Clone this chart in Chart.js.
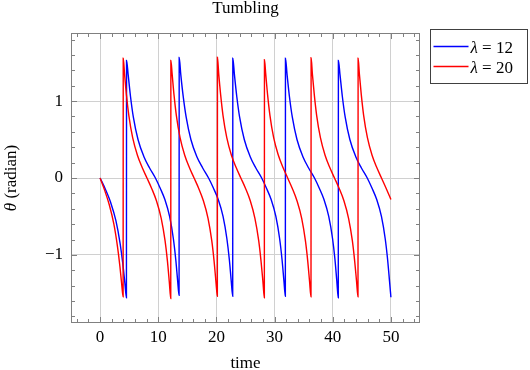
<!DOCTYPE html>
<html>
<head>
<meta charset="utf-8">
<title>Tumbling</title>
<script src="https://cdn.jsdelivr.net/npm/chart.js"></script>
<style>
  html, body { margin: 0; padding: 0; background: #fff; }
</style>
</head>
<body>
<canvas id="tumbleChart" width="530" height="370"></canvas>
<script>
// values
const xTicks = [0, 10, 20, 30, 40, 50];
const yTicks = [-1, 0, 1];
const lambdas = ['12', '20'];

const timeBlue = [
  0, 0.91, 1.81, 2.72, 3.44, 3.90, 4.26, 4.53,
  4.55, 4.83, 5.23, 5.72, 6.52, 7.52, 8.51, 9.51, 10.32, 11.14, 11.95, 12.60, 13.01, 13.34, 13.58,
  13.60, 13.88, 14.29, 14.80, 15.61, 16.62, 17.64, 18.65, 19.48, 20.31, 21.14, 21.80, 22.22, 22.55, 22.80,
  22.82, 23.10, 23.50, 23.99, 24.79, 25.79, 26.78, 27.78, 28.59, 29.41, 30.22, 30.87, 31.28, 31.61, 31.85,
  31.87, 32.15, 32.55, 33.05, 33.85, 34.85, 35.85, 36.86, 37.67, 38.49, 39.31, 39.97, 40.38, 40.70, 40.95,
  40.97, 41.25, 41.65, 42.14, 42.94, 43.94, 44.93, 45.93, 46.74, 47.56, 48.37, 49.02, 49.43, 49.76, 50.00
];
const thetaBlue = [
  0, -0.145, -0.316, -0.555, -0.85, -1.11, -1.364, -1.558,
  1.528, 1.34, 1.06, 0.79, 0.50, 0.28, 0.13, 0, -0.13, -0.28, -0.50, -0.79, -1.06, -1.34, -1.524,
  1.567, 1.34, 1.06, 0.79, 0.50, 0.28, 0.13, 0, -0.13, -0.28, -0.50, -0.79, -1.06, -1.34, -1.537,
  1.558, 1.34, 1.06, 0.79, 0.50, 0.28, 0.13, 0, -0.13, -0.28, -0.50, -0.79, -1.06, -1.34, -1.537,
  1.558, 1.34, 1.06, 0.79, 0.50, 0.28, 0.13, 0, -0.13, -0.28, -0.50, -0.79, -1.06, -1.34, -1.558,
  1.528, 1.34, 1.06, 0.79, 0.50, 0.28, 0.13, 0, -0.13, -0.28, -0.50, -0.79, -1.06, -1.34, -1.55
];

const timeRed = [
  0, 0.79, 1.58, 2.38, 3.01, 3.41, 3.72, 3.96,
  3.98, 4.21, 4.53, 4.94, 5.60, 6.42, 7.24, 8.06, 8.87, 9.69, 10.51, 11.17, 11.58, 11.90, 12.15,
  12.17, 12.39, 12.71, 13.11, 13.75, 14.55, 15.35, 16.16, 16.96, 17.76, 18.56, 19.20, 19.60, 19.92, 20.16,
  20.18, 20.40, 20.73, 21.13, 21.78, 22.58, 23.39, 24.20, 25.01, 25.82, 26.62, 27.27, 27.67, 28.00, 28.24,
  28.26, 28.48, 28.80, 29.20, 29.84, 30.65, 31.45, 32.25, 33.05, 33.85, 34.66, 35.30, 35.70, 36.02, 36.26,
  36.28, 36.50, 36.83, 37.23, 37.88, 38.68, 39.49, 40.30, 41.11, 41.92, 42.72, 43.37, 43.77, 44.10, 44.34,
  44.36, 44.58, 44.91, 45.31, 45.96, 46.76, 47.57, 48.38, 49.19, 50.00
];
const thetaRed = [
  0, -0.161, -0.348, -0.603, -0.901, -1.15, -1.384, -1.545,
  1.558, 1.35, 1.08, 0.815, 0.524, 0.296, 0.136, 0, -0.136, -0.296, -0.524, -0.815, -1.08, -1.35, -1.567,
  1.528, 1.35, 1.08, 0.815, 0.524, 0.296, 0.136, 0, -0.136, -0.296, -0.524, -0.815, -1.08, -1.35, -1.537,
  1.570, 1.35, 1.08, 0.815, 0.524, 0.296, 0.136, 0, -0.136, -0.296, -0.524, -0.815, -1.08, -1.35, -1.558,
  1.537, 1.35, 1.08, 0.815, 0.524, 0.296, 0.136, 0, -0.136, -0.296, -0.524, -0.815, -1.08, -1.35, -1.545,
  1.563, 1.35, 1.08, 0.815, 0.524, 0.296, 0.136, 0, -0.136, -0.296, -0.524, -0.815, -1.08, -1.35, -1.545,
  1.558, 1.35, 1.08, 0.815, 0.524, 0.296, 0.136, 0, -0.136, -0.28
];

const serif = '"Liberation Serif", "DejaVu Serif", serif';
const frameColor = '#808080';
const gridColor = '#d0d0d0';

function toPoints(ts, vs) {
  return ts.map((t, i) => ({ x: t, y: vs[i] }));
}

const seriesColors = ['#0000ff', '#ff0000'];

// frame, inside ticks, title, y label and legend box (pgfplots look)
const decorPlugin = {
  id: 'decor',
  afterDraw(chart) {
    const ctx = chart.ctx;
    const a = chart.chartArea;
    const xs = chart.scales.x, ys = chart.scales.y;
    ctx.save();
    ctx.strokeStyle = frameColor;
    ctx.lineWidth = 1;
    ctx.beginPath();
    for (let k = -2; k <= 27; k++) {
      const v = k * 2;
      const px = Math.round(xs.getPixelForValue(v)) + 0.5;
      const len = v % 10 === 0 ? 6 : 4;
      ctx.moveTo(px, a.bottom); ctx.lineTo(px, a.bottom - len);
      ctx.moveTo(px, a.top); ctx.lineTo(px, a.top + len);
    }
    for (let k = -9; k <= 9; k++) {
      const v = k / 5;
      const py = Math.round(ys.getPixelForValue(v)) + 0.5;
      const len = k % 5 === 0 ? 6 : 4;
      ctx.moveTo(a.left, py); ctx.lineTo(a.left + len, py);
      ctx.moveTo(a.right, py); ctx.lineTo(a.right - len, py);
    }
    ctx.stroke();
    ctx.strokeRect(a.left + 0.5, a.top + 0.5, a.right - a.left - 1, a.bottom - a.top - 1);

    // title
    ctx.fillStyle = '#000';
    ctx.font = '17px ' + serif;
    ctx.textAlign = 'center';
    ctx.textBaseline = 'alphabetic';
    ctx.fillText('Tumbling', (a.left + a.right) / 2, 13);

    // y axis label with italic theta
    ctx.save();
    ctx.translate(16, (a.top + a.bottom) / 2);
    ctx.rotate(-Math.PI / 2);
    ctx.textAlign = 'left';
    ctx.font = 'italic 17px ' + serif;
    const wTheta = ctx.measureText('θ').width;
    ctx.font = '17px ' + serif;
    const wRest = ctx.measureText(' (radian)').width;
    let x0 = -(wTheta + wRest) / 2;
    ctx.font = 'italic 17px ' + serif;
    ctx.fillText('θ', x0, 0);
    ctx.font = '17px ' + serif;
    ctx.fillText(' (radian)', x0 + wTheta, 0);
    ctx.restore();

    // legend
    const lx = 430.5, ly = 29.5;
    ctx.fillStyle = '#fff';
    ctx.fillRect(lx, ly, 97, 54);
    ctx.strokeStyle = '#404040';
    ctx.strokeRect(lx, ly, 97, 54);
    lambdas.forEach((lab, i) => {
      const yy = ly + 17 + i * 20;
      ctx.strokeStyle = seriesColors[i];
      ctx.lineWidth = 1.4;
      ctx.beginPath();
      ctx.moveTo(lx + 3, yy);
      ctx.lineTo(lx + 38, yy);
      ctx.stroke();
      ctx.fillStyle = '#000';
      ctx.textAlign = 'left';
      ctx.font = 'italic 17px ' + serif;
      ctx.fillText('λ', lx + 40, yy + 6);
      const w = ctx.measureText('λ').width;
      ctx.font = '17px ' + serif;
      ctx.fillText(' = ' + lab, lx + 40 + w, yy + 6);
    });
    ctx.restore();
  }
};

new Chart(document.getElementById('tumbleChart'), {
  type: 'scatter',
  data: {
    datasets: [{
      label: 'λ = ' + lambdas[0],
      data: toPoints(timeBlue, thetaBlue),
      showLine: true,
      borderColor: seriesColors[0],
      backgroundColor: seriesColors[0],
      borderWidth: 1.4,
      pointRadius: 0,
      cubicInterpolationMode: 'monotone',
      order: 1
    }, {
      label: 'λ = ' + lambdas[1],
      data: toPoints(timeRed, thetaRed),
      showLine: true,
      borderColor: seriesColors[1],
      backgroundColor: seriesColors[1],
      borderWidth: 1.4,
      pointRadius: 0,
      cubicInterpolationMode: 'monotone',
      order: 0
    }]
  },
  options: {
    responsive: false,
    animation: false,
    layout: { padding: { top: 33, right: 110, left: 0, bottom: 0 } },
    plugins: {
      legend: { display: false },
      tooltip: { enabled: false }
    },
    scales: {
      x: {
        type: 'linear',
        min: -5,
        max: 55,
        afterBuildTicks: s => { s.ticks = xTicks.map(v => ({ value: v })); },
        afterFit: s => { s.height = 47; },
        grid: { color: gridColor, drawTicks: false },
        border: { display: false },
        ticks: { color: '#000', padding: 4, font: { family: serif, size: 17 } },
        title: { display: true, text: 'time', color: '#000', padding: { top: 0, bottom: -4 }, font: { family: serif, size: 17 } }
      },
      y: {
        type: 'linear',
        min: -1.885,
        max: 1.885,
        afterBuildTicks: s => { s.ticks = yTicks.map(v => ({ value: v })); },
        afterFit: s => { s.width = 71; },
        grid: { color: gridColor, drawTicks: false },
        border: { display: false },
        ticks: {
          color: '#000',
          padding: 8,
          font: { family: serif, size: 17 },
          callback: v => (v < 0 ? '\u2212' + Math.abs(v) : String(v))
        }
      }
    }
  },
  plugins: [decorPlugin]
});
</script>
</body>
</html>
